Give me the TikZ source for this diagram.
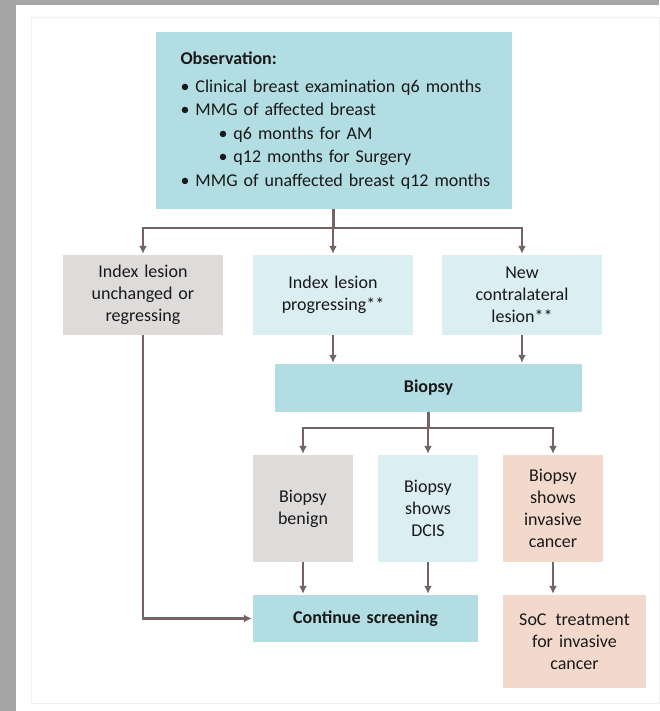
\documentclass[tikz,border=0pt]{standalone}
\usepackage{fontspec}
\setmainfont{Carlito}
\usepackage{tikz}
\usetikzlibrary{arrows.meta, calc}

\definecolor{framegray}{RGB}{166,166,166}
\definecolor{obsteal}{RGB}{178,221,226}
\definecolor{paleblue}{RGB}{219,238,241}
\definecolor{stonegray}{RGB}{222,219,219}
\definecolor{peach}{RGB}{243,217,204}
\definecolor{linkbrown}{RGB}{116,100,100}
\definecolor{inkgray}{RGB}{25,25,25}

\newcommand{\obsitem}[1]{\makebox[15pt][l]{\textbullet}#1}

\begin{document}
\begin{tikzpicture}
      [
        x=1pt, y=-1pt,
        flowbox/.style={inner sep=0pt, align=center, text=inkgray,
          font=\fontsize{18}{22}\selectfont},
        tealbox/.style={flowbox, fill=obsteal},
        bluebox/.style={flowbox, fill=paleblue},
        greybox/.style={flowbox, fill=stonegray},
        peachbox/.style={flowbox, fill=peach},
        link/.style={draw=linkbrown, line width=2.8pt},
        flow/.style={link, -{Latex[length=8pt,width=8pt]}, shorten >=1pt}
      ]
      \useasboundingbox (0,0) rectangle (659,711);
      % page frame
      \fill [framegray] (0,0) rectangle (659,711);
      \fill [white] (16,5) rectangle (659,711);
      \draw [black!6, line width=0.8pt] (31,17) rectangle (659,703);
      % observation
      \node [tealbox, align=left, text width=306pt, minimum width=356pt,
        minimum height=177pt, inner xsep=25pt, font=\fontsize{18}{23.5}\selectfont]
        (obs) at (333.5,120.5)
        {\textbf{Observation:}\\[4pt]
         \obsitem{Clinical breast examination q6 months}\\
         \obsitem{MMG of affected breast}\\
         \hspace{38pt}\obsitem{q6 months for AM}\\
         \hspace{38pt}\obsitem{q12 months for Surgery}\\
         \mbox{\obsitem{MMG of unaffected breast q12 months}}};
      % first outcomes
      \node [greybox, text width=150pt, minimum width=160pt, minimum height=80pt]
        (unch) at (143,295) {Index lesion\\unchanged or\\regressing};
      \node [bluebox, text width=150pt, minimum width=160pt, minimum height=80pt]
        (prog) at (333,295) {Index lesion\\progressing**};
      \node [bluebox, text width=150pt, minimum width=160pt, minimum height=80pt]
        (new) at (522,295) {New\\contralateral\\lesion**};
      % biopsy
      \node [tealbox, text width=297pt, minimum width=307pt, minimum height=48pt]
        (biopsy) at (428.5,388) {\textbf{Biopsy}};
      \node [greybox, text width=92pt, minimum width=100pt, minimum height=107pt]
        (benign) at (303,508.5) {Biopsy\\benign};
      \node [bluebox, text width=92pt, minimum width=100pt, minimum height=107pt]
        (dcis) at (428,508.5) {Biopsy\\shows\\DCIS};
      \node [peachbox, text width=92pt, minimum width=100pt, minimum height=107pt]
        (inv) at (553,508.5) {Biopsy\\shows\\invasive\\cancer};
      % end points
      \node [tealbox, text width=215pt, minimum width=225pt, minimum height=47pt]
        (screen) at (365.5,618.5) {\textbf{Continue screening}};
      \node [peachbox, text width=133pt, minimum width=143pt, minimum height=93pt]
        (soc) at (574.5,641.5) {SoC\, treatment\\for invasive\\cancer};
      % connectors
      \coordinate (fork1) at (333,228);
      \coordinate (fork2) at (428,428);
      \draw [link] (obs.south) -- (obs.south |- fork1);
      \draw [flow] (fork1) -| (unch.north);
      \draw [flow] (fork1) -| (new.north);
      \draw [flow] (fork1) -- (prog.north);
      \draw [flow] (prog.south) -- (prog.south |- biopsy.north);
      \draw [flow] (new.south) -- (new.south |- biopsy.north);
      \draw [link] (biopsy.south) -- (biopsy.south |- fork2);
      \draw [flow] (fork2) -| (benign.north);
      \draw [flow] (fork2) -| (inv.north);
      \draw [flow] (fork2) -- (dcis.north);
      \draw [flow] (benign.south) -- (benign.south |- screen.north);
      \draw [flow] (dcis.south) -- (dcis.south |- screen.north);
      \draw [flow] (inv.south) -- (inv.south |- soc.north);
      \draw [flow] (unch.south) |- (screen.west);
    \end{tikzpicture}
\end{document}
